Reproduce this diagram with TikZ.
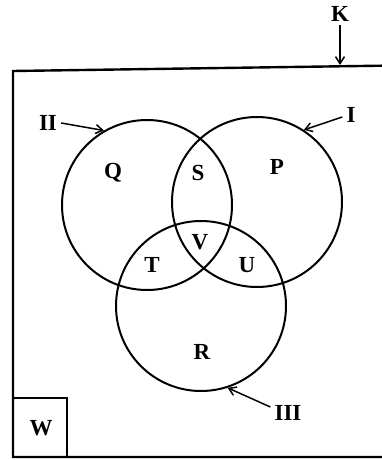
\documentclass[tikz,border=0pt]{standalone}
\usepackage{fontspec}
\setmainfont{Liberation Serif}
\usetikzlibrary{arrows.meta}
\begin{document}
\begin{tikzpicture}[x=1pt,y=-1pt,
  lbl/.style={font=\fontsize{23}{23}\selectfont\bfseries, inner sep=0pt},
  setc/.style={circle, draw, line width=2pt, minimum size=170pt, inner sep=0pt},
  ptr/.style={-{Straight Barb[length=7pt,width=9pt]}, line width=1.5pt}]
\useasboundingbox (0,0) rectangle (382,460);
\clip (0,0) rectangle (382,460);
% universal set
\draw[line width=2.4pt] (13,457) -- (13,71) -- (395,65.5) -- (395,457) -- cycle;
\coordinate (ktop) at (340,65);
\node[lbl] (K) at (340,14) {K};
\draw[ptr] (K.south) ++(0,3) coordinate (kstart) (kstart) -- (ktop);
% W box
\draw[line width=2pt] (13,398) rectangle (67,457);
\node[lbl] (W) at (41,428) {W};
% circles
\node[setc] (cII) at (147,205) {};
\node[setc] (cI) at (257,202) {};
\node[setc] (cIII) at (201,306) {};
% region labels
\node[lbl] (Q) at (113,173) {Q};
\node[lbl] (S) at (198,173) {S};
\node[lbl] (P) at (277,167) {P};
\node[lbl] (V) at (200,242) {V};
\node[lbl] (T) at (152,265) {T};
\node[lbl] (U) at (247,265) {U};
\node[lbl] (R) at (202,352) {R};
% set names
\node[lbl] (II) at (48,123) {II};
\node[lbl] (I) at (351,115) {I};
\node[lbl] (III) at (288,413) {III};
\draw[ptr] (II.east) ++(4,0) coordinate (iis) (iis) -- (cII.120);
\draw[ptr] (I.west) ++(-4,2) coordinate (is) (is) -- (cI.57);
\draw[ptr] (III.west) ++(-4,-6) coordinate (iiis) (iiis) -- (cIII.-72);
\end{tikzpicture}
\end{document}
